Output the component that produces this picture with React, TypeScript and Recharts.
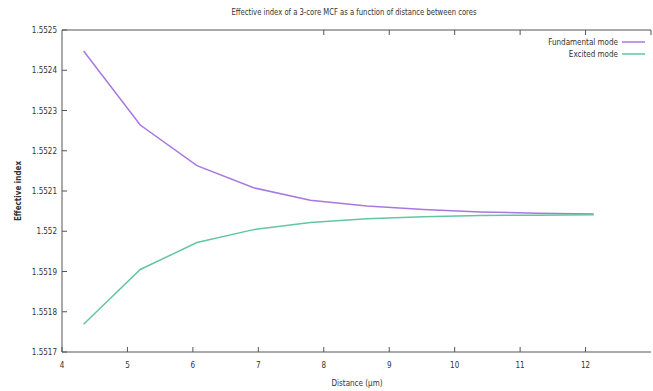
import { LineChart, Line, XAxis, YAxis } from "recharts";

// distance between cores (µm)
const distance = [4.33, 5.196, 6.062, 6.928, 7.794, 8.66, 9.526, 10.392, 11.258, 12.124];
const fundamental = [
  1.552448, 1.552264, 1.552163, 1.552108, 1.552077, 1.552063, 1.552054, 1.552048, 1.552045, 1.552043,
];
const excited = [
  1.551769, 1.551905, 1.551972, 1.552004, 1.552022, 1.552031, 1.552036, 1.552039, 1.55204, 1.552041,
];
const xTicks = [4, 5, 6, 7, 8, 9, 10, 11, 12];
const yTicks = [1.5517, 1.5518, 1.5519, 1.552, 1.5521, 1.5522, 1.5523, 1.5524, 1.5525];

const data = distance.map((d, i) => ({ d, fundamental: fundamental[i], excited: excited[i] }));

const AXIS = "#555";
const FONT = "'Liberation Sans Narrow', 'DejaVu Sans Condensed', 'Liberation Sans', sans-serif";
const PURPLE = "#a878e0";
const TEAL = "#62c6a2";

function BottomTick({ x, y, payload }: any) {
  return (
    <g>
      <line x1={x} y1={y} x2={x} y2={y - 5} stroke={AXIS} />
      <text x={x} y={y + 16} textAnchor="middle" fontSize={8} fontFamily={FONT} fill="#333">
        {payload.value}
      </text>
    </g>
  );
}

function TopTick({ x, y }: any) {
  return <line x1={x} y1={y} x2={x} y2={y + 5} stroke={AXIS} />;
}

function LeftTick({ x, y, payload }: any) {
  return (
    <g>
      <line x1={x} y1={y} x2={x + 5} y2={y} stroke={AXIS} />
      <text x={x - 5} y={y + 3} textAnchor="end" fontSize={8} fontFamily={FONT} fill="#333">
        {String(payload.value)}
      </text>
    </g>
  );
}

export default function App() {
  return (
    <div style={{ position: "absolute", left: 0, top: 0, width: 653, height: 391, background: "#fff" }}>
      <LineChart width={653} height={391} data={data} margin={{ top: 0, right: 2, left: 0, bottom: 0 }}>
        <XAxis
          dataKey="d"
          type="number"
          domain={[4, 13]}
          ticks={xTicks}
          interval={0}
          allowDataOverflow
          height={39}
          tickLine={false}
          tickSize={0}
          tickMargin={0}
          axisLine={{ stroke: AXIS }}
          tick={<BottomTick />}
        />
        <XAxis
          xAxisId="top"
          orientation="top"
          type="number"
          domain={[4, 13]}
          ticks={xTicks}
          interval={0}
          allowDataOverflow
          height={30}
          tickLine={false}
          tickSize={0}
          tickMargin={0}
          axisLine={{ stroke: AXIS }}
          tick={<TopTick />}
        />
        <YAxis
          type="number"
          domain={[1.5517, 1.5525]}
          ticks={yTicks}
          interval={0}
          allowDataOverflow
          width={62}
          tickLine={false}
          tickSize={0}
          tickMargin={0}
          axisLine={{ stroke: AXIS }}
          tick={<LeftTick />}
        />
        <Line
          dataKey="fundamental"
          stroke={PURPLE}
          strokeWidth={1.5}
          dot={false}
          isAnimationActive={false}
        />
        <Line
          dataKey="excited"
          stroke={TEAL}
          strokeWidth={1.5}
          dot={false}
          isAnimationActive={false}
        />
      </LineChart>
      <svg
        width={653}
        height={391}
        style={{ position: "absolute", left: 0, top: 0, pointerEvents: "none" }}
        fontFamily={FONT}
        fill="#333"
      >
        <text x={354} y={15} textAnchor="middle" fontSize={8.5} textLength={245} lengthAdjust="spacingAndGlyphs">
          Effective index of a 3-core MCF as a function of distance between cores
        </text>
        <text x={618} y={45} textAnchor="end" fontSize={8}>Fundamental mode</text>
        <line x1={622} y1={42} x2={645} y2={42} stroke={PURPLE} strokeWidth={1.5} />
        <text x={618} y={57} textAnchor="end" fontSize={8}>Excited mode</text>
        <line x1={622} y1={54} x2={645} y2={54} stroke={TEAL} strokeWidth={1.5} />
        <text x={357} y={386} textAnchor="middle" fontSize={8}>Distance (µm)</text>
        <text
          x={21}
          y={191}
          textAnchor="middle"
          fontSize={8}
          fontWeight="bold"
          transform="rotate(-90 21 191)"
        >
          Effective index
        </text>
      </svg>
    </div>
  );
}
